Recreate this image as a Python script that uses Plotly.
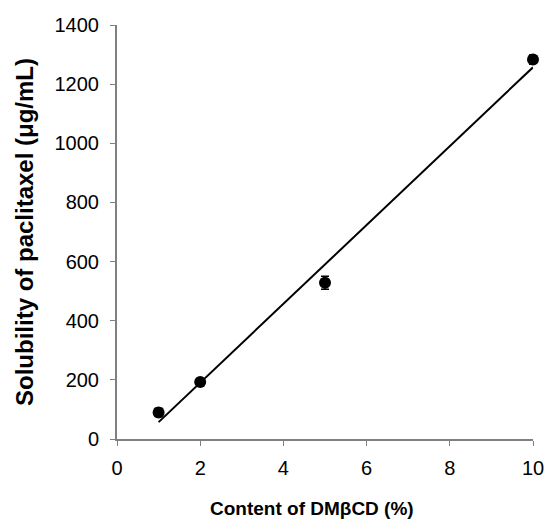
import plotly.graph_objects as go

content_pct = [1, 2, 5, 10]
solubility = [90, 193, 528, 1283]
solubility_err = [14, 12, 22, 16]

trend_x = [1, 10]
trend_y = [57, 1257]

x_ticks = [0, 2, 4, 6, 8, 10]
y_ticks = [0, 200, 400, 600, 800, 1000, 1200, 1400]

fig = go.Figure()
fig.add_trace(go.Scatter(
    x=trend_x, y=trend_y, mode="lines",
    line=dict(color="black", width=2), showlegend=False, hoverinfo="skip"))
fig.add_trace(go.Scatter(
    x=content_pct, y=solubility, mode="markers",
    marker=dict(color="black", size=12),
    error_y=dict(type="data", array=solubility_err, color="black", thickness=1.5, width=4),
    showlegend=False, cliponaxis=False))

font_family = "Liberation Sans, Arial, sans-serif"
fig.update_layout(
    width=545, height=519,
    margin=dict(l=117, r=12, t=25, b=80),
    plot_bgcolor="white", paper_bgcolor="white",
    font=dict(family=font_family, color="black", size=20),
    xaxis=dict(
        range=[0, 10], tickvals=x_ticks, ticks="outside", ticklen=5, tickcolor="#808080",
        showline=True, linecolor="#808080", linewidth=2, showgrid=False, zeroline=False,
        tickfont=dict(size=20), ticklabelstandoff=5, automargin=False),
    yaxis=dict(
        range=[0, 1400], tickvals=y_ticks, ticks="outside", ticklen=5, tickcolor="#808080",
        showline=True, linecolor="#808080", linewidth=2, showgrid=False, zeroline=False,
        tickfont=dict(size=20), ticklabelstandoff=7, automargin=False,
        title=dict(text="<b>Solubility of paclitaxel (μg/mL)</b>", font=dict(size=24), standoff=14)),
    annotations=[dict(
        text="<b>Content of DMβCD (%)</b>", xref="paper", yref="paper",
        x=0.468, y=-0.168, xanchor="center", yanchor="middle",
        showarrow=False, font=dict(size=19))],
)
fig.write_html("out.html", config={"displayModeBar": False},
               post_script="document.body.style.margin='0px';document.body.style.overflow='hidden';")
